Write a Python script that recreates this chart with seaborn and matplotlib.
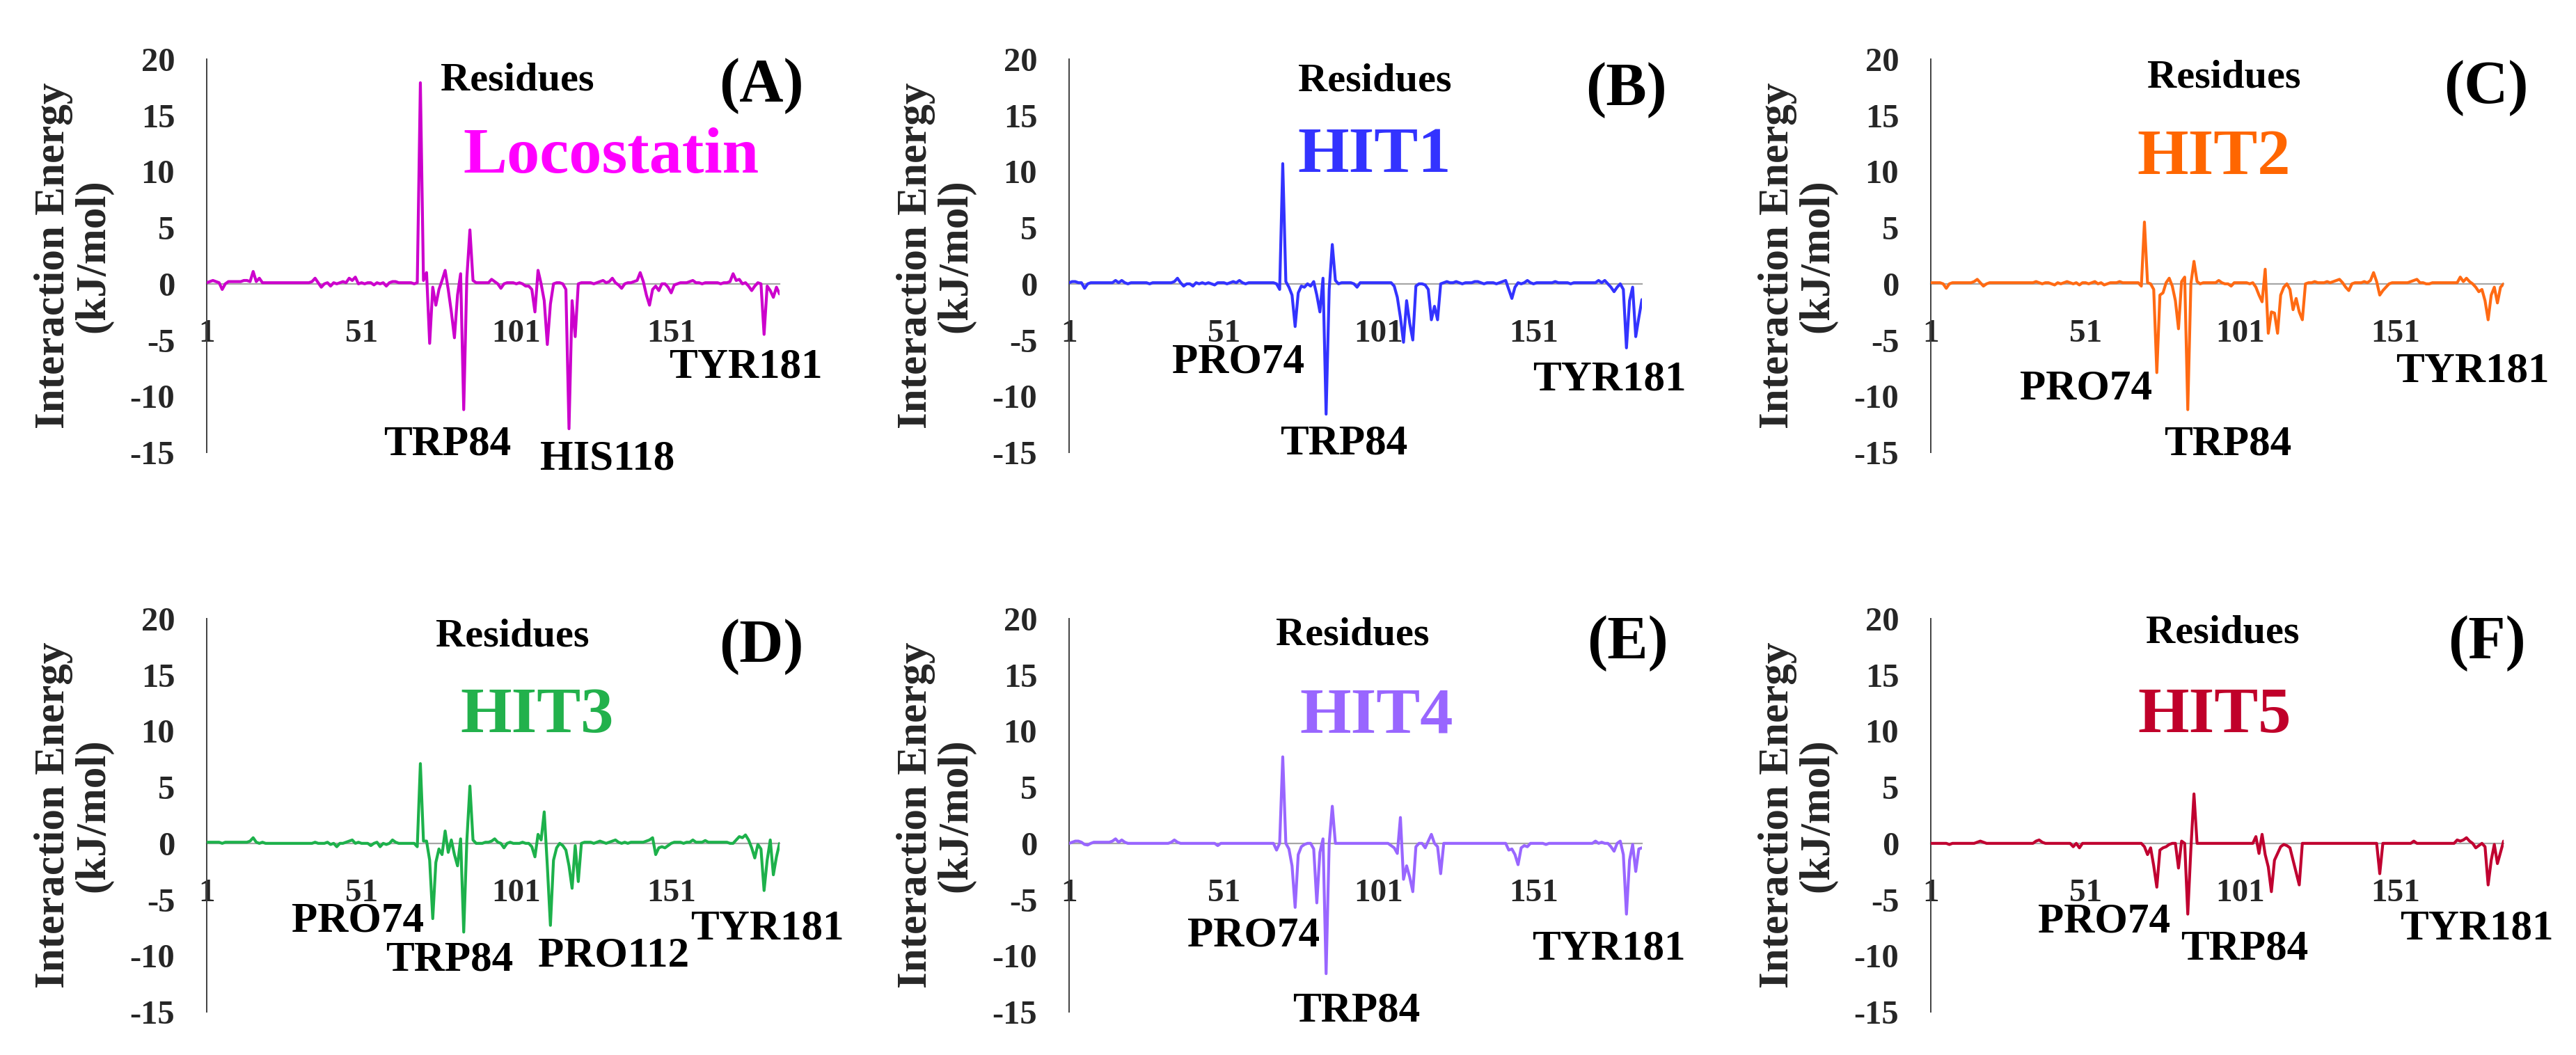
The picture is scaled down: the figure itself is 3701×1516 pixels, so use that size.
import matplotlib
matplotlib.use("Agg")
import matplotlib.pyplot as plt
import seaborn as sns
import pandas as pd

# ---------------- data ----------------
residues = list(range(1, 187))

locostatin = [
    0.1, 0.2, 0.3, 0.2, 0.1, -0.5, 0.0, 0.2, 0.2, 0.2,
    0.2, 0.2, 0.3, 0.3, 0.2, 1.1, 0.2, 0.5, 0.1, 0.1,
    0.1, 0.1, 0.1, 0.1, 0.1, 0.1, 0.1, 0.1, 0.1, 0.1,
    0.1, 0.1, 0.1, 0.1, 0.2, 0.5, 0.1, -0.3, 0.0, 0.1,
    -0.2, 0.1, 0.0, 0.1, 0.2, 0.1, 0.5, 0.3, 0.6, 0.0,
    0.1, 0.0, 0.1, 0.1, -0.1, 0.1, 0.0, 0.1, -0.2, 0.1,
    0.2, 0.2, 0.1, 0.1, 0.1, 0.1, 0.1, 0.0, 0.1, 17.9,
    0.3, 1.0, -5.3, -0.3, -1.9, -0.5, 0.3, 1.2, -0.5, -2.5,
    -4.8, -1.0, 0.9, -11.2, 0.5, 4.8, 0.3, 0.1, 0.1, 0.1,
    0.1, 0.1, 0.4, 0.2, 0.0, -0.4, 0.0, 0.1, 0.1, 0.1,
    0.0, 0.1, 0.0, -0.2, -0.2, -0.5, -2.5, 1.2, 0.0, -1.5,
    -5.4, -1.8, 0.0, 0.1, 0.1, 0.0, -0.5, -12.9, -1.5, -4.7,
    0.0, 0.1, 0.1, 0.1, 0.1, 0.0, 0.1, 0.2, 0.3, 0.1,
    0.2, 0.5, 0.1, -0.1, -0.4, 0.0, 0.1, 0.1, 0.2, 0.3,
    1.0, 0.2, -1.0, -1.9, -0.5, -0.2, -0.6, 0.0, 0.0, -0.3,
    -0.8, -0.1, 0.0, 0.1, 0.1, 0.1, 0.2, 0.3, 0.1, 0.1,
    0.0, 0.1, 0.1, 0.1, 0.1, 0.1, 0.0, 0.1, 0.1, 0.2,
    0.9, 0.3, 0.4, 0.0, 0.1, -0.2, -0.6, -0.2, 0.1, 0.0,
    -4.5, -0.2, -0.6, -1.2, -0.3, -0.9,
]

hit1 = [
    0.1, 0.2, 0.2, 0.1, 0.1, -0.4, 0.0, 0.1, 0.1, 0.1,
    0.1, 0.1, 0.1, 0.1, 0.1, 0.3, 0.1, 0.3, 0.1, 0.0,
    0.1, 0.1, 0.1, 0.1, 0.1, 0.1, 0.0, 0.1, 0.1, 0.1,
    0.1, 0.1, 0.1, 0.1, 0.2, 0.5, 0.1, -0.2, 0.0, 0.0,
    -0.2, 0.1, 0.0, 0.1, 0.0, 0.1, 0.0, -0.1, 0.1, 0.1,
    0.1, 0.0, 0.1, 0.2, 0.1, 0.3, 0.1, 0.0, 0.1, 0.1,
    0.1, 0.1, 0.1, 0.1, 0.1, 0.1, 0.1, 0.0, -0.5, 10.7,
    0.2, -0.3, -1.0, -3.8, -0.8, -0.2, -0.3, 0.0, -0.2, 0.2,
    -1.0, -2.5, 0.5, -11.6, -0.5, 3.5, 0.3, 0.0, 0.1, 0.1,
    0.1, 0.1, 0.0, -0.3, 0.1, 0.1, 0.1, 0.1, 0.1, 0.1,
    0.1, 0.1, 0.1, 0.1, 0.1, -0.2, -1.2, -3.0, -5.2, -1.5,
    -3.5, -5.0, -0.2, 0.0, 0.0, -0.1, -0.5, -3.2, -2.0, -3.2,
    0.0, 0.1, 0.2, 0.1, 0.1, 0.2, 0.1, 0.0, 0.1, 0.1,
    0.1, 0.2, 0.2, 0.1, 0.0, 0.1, 0.1, 0.1, 0.0, 0.1,
    0.2, 0.3, -0.5, -1.3, -0.3, 0.1, 0.0, 0.1, 0.3, 0.1,
    0.0, 0.1, 0.1, 0.1, 0.1, 0.1, 0.1, 0.2, 0.1, 0.1,
    0.1, 0.1, 0.0, 0.1, 0.1, 0.1, 0.1, 0.1, 0.1, 0.1,
    0.1, 0.3, 0.1, 0.3, 0.0, -0.3, -0.7, -0.3, 0.0, -0.5,
    -5.7, -1.5, -0.3, -4.7, -3.0, -1.4,
]

hit2 = [
    0.1, 0.1, 0.1, 0.1, 0.0, -0.4, 0.0, 0.1, 0.1, 0.1,
    0.1, 0.1, 0.1, 0.1, 0.2, 0.4, 0.1, -0.2, 0.0, 0.1,
    0.1, 0.1, 0.1, 0.1, 0.1, 0.1, 0.1, 0.1, 0.1, 0.1,
    0.1, 0.1, 0.1, 0.1, 0.2, 0.1, 0.0, 0.1, 0.1, 0.0,
    -0.1, 0.1, 0.0, 0.1, 0.2, 0.1, 0.0, 0.1, -0.1, 0.1,
    0.1, 0.0, 0.1, 0.2, 0.0, 0.1, -0.1, 0.0, 0.1, 0.1,
    0.1, 0.2, 0.1, 0.1, 0.1, 0.1, 0.1, 0.1, -0.2, 5.5,
    0.1, 0.0, -0.5, -7.9, -1.0, -0.8, 0.1, 0.5, -0.2, -1.5,
    -4.0, 0.2, 0.6, -11.2, 0.0, 2.0, 0.2, 0.0, 0.1, 0.1,
    0.1, 0.1, 0.1, 0.3, 0.1, 0.0, 0.0, -0.2, 0.1, 0.1,
    0.1, 0.1, 0.1, 0.0, 0.1, -0.3, -1.0, -1.6, 1.3, -4.4,
    -2.5, -2.6, -4.4, -1.0, -0.3, 0.0, -0.5, -2.3, -1.3, -2.5,
    -3.2, 0.0, 0.1, 0.1, 0.2, 0.1, 0.1, 0.1, 0.2, 0.1,
    0.2, 0.3, 0.4, 0.1, -0.3, -0.6, 0.0, 0.1, 0.1, 0.1,
    0.2, 0.1, 0.3, 1.0, 0.2, -1.0, -0.6, -0.3, 0.0, 0.1,
    0.1, 0.1, 0.1, 0.1, 0.1, 0.2, 0.3, 0.4, 0.1, 0.1,
    0.0, 0.0, 0.1, 0.1, 0.1, 0.1, 0.1, 0.1, 0.1, 0.1,
    0.1, 0.6, 0.2, 0.5, 0.2, 0.0, -0.3, -0.7, -0.5, -1.5,
    -3.2, -1.0, -0.3, -1.7, -0.3, 0.0,
]

hit3 = [
    0.1, 0.1, 0.1, 0.1, 0.1, 0.0, 0.1, 0.1, 0.1, 0.1,
    0.1, 0.1, 0.1, 0.1, 0.2, 0.5, 0.1, 0.0, 0.1, 0.0,
    0.0, 0.0, 0.0, 0.0, 0.0, 0.0, 0.0, 0.0, 0.0, 0.0,
    0.0, 0.0, 0.0, 0.0, 0.0, 0.1, 0.0, 0.0, 0.0, 0.1,
    -0.1, 0.0, -0.3, 0.0, 0.0, 0.1, 0.2, 0.3, 0.0, 0.1,
    0.0, 0.0, 0.0, -0.2, 0.0, 0.1, -0.3, 0.0, -0.1, 0.0,
    0.3, 0.1, 0.0, 0.0, 0.0, 0.0, 0.0, 0.0, -0.3, 7.1,
    0.2, 0.2, -1.5, -6.7, -1.7, -0.5, -1.0, 1.1, -0.8, 0.3,
    -1.0, -2.0, 0.4, -7.9, 0.2, 5.1, 0.3, 0.0, 0.0, 0.0,
    0.1, 0.1, 0.2, 0.4, 0.1, 0.0, -0.4, 0.0, 0.1, 0.0,
    0.0, 0.0, 0.1, 0.0, 0.0, -0.3, -1.2, 0.8, 0.3, 2.8,
    -2.0, -7.3, -1.5, -0.4, 0.0, -0.2, -0.6, -2.0, -4.0, -0.2,
    -3.4, 0.0, 0.1, 0.1, 0.1, 0.0, 0.1, 0.2, 0.1, 0.0,
    0.1, 0.2, 0.3, 0.1, 0.0, 0.1, 0.0, 0.1, 0.1, 0.1,
    0.1, 0.1, 0.2, 0.3, 0.5, -1.0, -0.4, -0.3, -0.4, -0.2,
    0.0, 0.1, 0.1, 0.1, 0.0, 0.1, 0.1, 0.3, 0.1, 0.1,
    0.1, 0.25, 0.1, 0.1, 0.1, 0.1, 0.1, 0.1, 0.1, 0.0,
    0.0, 0.3, 0.6, 0.5, 0.75, 0.3, -0.4, -1.3, -0.1, -0.5,
    -4.2, -1.5, 0.3, -2.8, -1.2, 0.0,
]

hit4 = [
    0.0, 0.1, 0.2, 0.2, 0.1, -0.1, -0.15, 0.0, 0.1, 0.1,
    0.1, 0.1, 0.1, 0.1, 0.2, 0.4, 0.1, 0.3, 0.1, 0.0,
    0.0, 0.0, 0.0, 0.0, 0.0, 0.0, 0.0, 0.0, 0.0, 0.0,
    0.0, 0.0, 0.0, 0.1, 0.3, 0.1, 0.0, 0.0, 0.0, 0.0,
    0.0, 0.0, 0.0, 0.0, 0.0, 0.0, 0.0, 0.0, -0.2, 0.0,
    0.0, 0.0, 0.0, 0.0, 0.0, 0.0, 0.0, 0.0, 0.0, 0.0,
    0.0, 0.0, 0.0, 0.0, 0.0, 0.0, 0.0, -0.6, 0.0, 7.7,
    0.0, -0.5, -2.0, -5.7, -1.0, -0.3, -0.1, 0.0, 0.0, -0.5,
    -5.3, -0.8, 0.4, -11.6, 0.0, 3.3, 0.0, 0.0, 0.0, 0.0,
    0.0, 0.0, 0.0, 0.0, 0.0, 0.0, 0.0, 0.0, 0.0, 0.0,
    0.0, 0.0, 0.0, 0.0, -0.2, -0.4, -0.9, 2.3, -3.2, -2.0,
    -3.0, -4.3, -0.3, 0.0, 0.0, -0.4, 0.2, 0.8, 0.0, -0.3,
    -2.7, 0.0, 0.0, 0.0, 0.0, 0.0, 0.0, 0.0, 0.0, 0.0,
    0.0, 0.0, 0.0, 0.0, 0.0, 0.0, 0.0, 0.0, 0.0, 0.0,
    0.0, 0.0, -0.6, -0.5, -1.0, -1.9, -0.4, -0.2, -0.3, 0.0,
    0.0, 0.0, 0.0, 0.0, -0.1, 0.0, 0.0, 0.0, 0.0, 0.0,
    0.0, 0.0, 0.0, 0.0, 0.0, 0.0, 0.0, 0.0, 0.0, 0.0,
    0.2, 0.0, 0.1, 0.0, 0.0, -0.3, -0.7, 0.0, 0.2, -1.0,
    -6.3, -1.5, -0.1, -2.5, -0.5, -0.4,
]

hit5 = [
    0.0, 0.0, 0.0, 0.0, 0.0, 0.0, -0.1, 0.0, 0.0, 0.0,
    0.0, 0.0, 0.0, 0.0, 0.0, 0.1, 0.2, 0.1, 0.0, 0.0,
    0.0, 0.0, 0.0, 0.0, 0.0, 0.0, 0.0, 0.0, 0.0, 0.0,
    0.0, 0.0, 0.0, 0.0, 0.2, 0.3, 0.1, 0.0, 0.0, 0.0,
    0.0, 0.0, 0.0, 0.0, 0.0, 0.0, -0.3, 0.0, -0.4, 0.0,
    0.0, 0.0, 0.0, 0.0, 0.0, 0.0, 0.0, 0.0, 0.0, 0.0,
    0.0, 0.0, 0.0, 0.0, 0.0, 0.0, 0.0, 0.0, 0.0, -0.3,
    -1.0, -0.4, -2.0, -3.9, -0.6, -0.4, -0.3, -0.1, 0.0, 0.0,
    -2.2, 0.2, 0.0, -6.3, -0.5, 4.4, 0.0, 0.0, 0.0, 0.0,
    0.0, 0.0, 0.0, 0.0, 0.0, 0.0, 0.0, 0.0, 0.0, 0.0,
    0.0, 0.0, 0.0, 0.0, 0.0, 0.6, -0.9, 0.8, -1.0, -2.1,
    -4.3, -1.5, -0.9, -0.3, -0.1, -0.2, -0.4, -1.5, -2.6, -3.7,
    0.0, 0.0, 0.0, 0.0, 0.0, 0.0, 0.0, 0.0, 0.0, 0.0,
    0.0, 0.0, 0.0, 0.0, 0.0, 0.0, 0.0, 0.0, 0.0, 0.0,
    0.0, 0.0, 0.0, 0.0, 0.0, -2.7, 0.0, 0.0, 0.0, 0.0,
    0.0, 0.0, 0.0, 0.0, 0.0, 0.0, 0.2, 0.0, 0.0, 0.0,
    0.0, 0.0, 0.0, 0.0, 0.0, 0.0, 0.0, 0.0, 0.0, 0.0,
    0.3, 0.2, 0.3, 0.5, 0.2, 0.0, -0.4, -0.2, 0.0, -0.3,
    -3.7, -1.5, -0.1, -1.8, -0.8, 0.2,
]

compounds = ["Locostatin", "HIT1", "HIT2", "HIT3", "HIT4", "HIT5"]
panel_tags = ["(A)", "(B)", "(C)", "(D)", "(E)", "(F)"]
series = [locostatin, hit1, hit2, hit3, hit4, hit5]
line_colors = ["#CC00CC", "#3333FF", "#FF6A13", "#1DB14B", "#9966FF", "#C00030"]
name_colors = ["#FF00FF", "#3333FF", "#FF6600", "#22B14C", "#9966FF", "#C0002A"]

x_ticks = [1, 51, 101, 151]
x_tick_labels = ["1", "51", "101", "151"]
y_ticks = [-15, -10, -5, 0, 5, 10, 15, 20]
y_tick_labels = ["-15", "-10", "-5", "0", "5", "10", "15", "20"]
x_title = "Residues"
y_title = "Interaction Energy\n(kJ/mol)"

residue_labels = [
    [("TRP84", 78.8, -13.9), ("HIS118", 130.3, -15.2), ("TYR181", 175.0, -7.0)],
    [("PRO74", 55.6, -6.6), ("TRP84", 89.8, -13.8), ("TYR181", 175.6, -8.1)],
    [("PRO74", 51.1, -8.9), ("TRP84", 97.0, -13.9), ("TYR181", 175.9, -7.4)],
    [("PRO74", 49.8, -6.5), ("TRP84", 79.3, -10.0), ("PRO112", 132.4, -9.6),
     ("TYR181", 182.0, -7.2)],
    [("PRO74", 60.6, -7.8), ("TRP84", 93.7, -14.5), ("TYR181", 175.2, -9.0)],
    [("PRO74", 57.0, -6.6), ("TRP84", 102.4, -9.0), ("TYR181", 177.2, -7.2)],
]
title_pos = [(101.3, 18.5), (99.7, 18.4), (95.7, 18.7), (99.7, 18.8), (92.5, 18.9), (95.3, 19.1)]
tag_pos = [(180.2, 18.2), (180.9, 17.8), (180.4, 18.0), (180.2, 18.1), (181.3, 18.4), (180.7, 18.4)]
name_pos = [(131.6, 11.9), (99.7, 12.0), (92.3, 11.8), (107.7, 11.9), (100.2, 11.9), (92.6, 11.9)]

# ---------------- style ----------------
sns.set_theme(style="white")
plt.rcParams["font.family"] = ["Liberation Serif", "DejaVu Serif"]
plt.rcParams["font.weight"] = "bold"
plt.rcParams["axes.unicode_minus"] = False

W, H = 3701, 1516
fig = plt.figure(figsize=(W / 100, H / 100), dpi=100)

lefts = [297, 1536, 2774]
tops = [85, 889]
ax_w = 823
ax_h = 565

for i, (vals, name) in enumerate(zip(series, compounds)):
    row, col = divmod(i, 3)
    left = lefts[col] / W
    bottom = 1 - (tops[row] + ax_h) / H
    ax = fig.add_axes([left, bottom, ax_w / W, ax_h / H])
    df = pd.DataFrame({"Residue": residues, "Energy": vals})
    sns.lineplot(data=df, x="Residue", y="Energy", ax=ax, color=line_colors[i],
                 linewidth=3.0, zorder=3)
    ax.set_xlim(1, 186)
    ax.set_ylim(-15, 20)
    ax.spines["top"].set_visible(False)
    ax.spines["right"].set_visible(False)
    ax.spines["bottom"].set_position(("data", 0))
    ax.spines["bottom"].set_color("#A6A6A6")
    ax.spines["bottom"].set_linewidth(1.6)
    ax.spines["bottom"].set_zorder(2)
    ax.spines["left"].set_color("#404040")
    ax.spines["left"].set_linewidth(1.4)
    ax.set_xticks(x_ticks)
    ax.set_xticklabels(x_tick_labels)
    ax.set_yticks(y_ticks)
    ax.set_yticklabels(y_tick_labels)
    ax.tick_params(axis="x", length=0, pad=37, labelsize=34)
    ax.tick_params(axis="y", length=0, pad=33, labelsize=35)
    for lab in ax.get_xticklabels() + ax.get_yticklabels():
        lab.set_fontweight("bold")
    ax.set_xlabel("")
    ax.set_ylabel(y_title, fontsize=44, fontweight="bold", linespacing=1.05)
    ax.yaxis.set_label_coords(-0.163, 0.5)
    ax.patch.set_alpha(0)

    ax.text(*title_pos[i], x_title, fontsize=42, fontweight="bold",
            ha="center", va="center_baseline", color="black")
    ax.text(*tag_pos[i], panel_tags[i], fontsize=63, fontweight="bold",
            ha="center", va="center_baseline", color="black")
    ax.text(*name_pos[i], name, fontsize=68, fontweight="bold",
            ha="center", va="center_baseline", color=name_colors[i])
    for (txt, lx, ly) in residue_labels[i]:
        ax.text(lx, ly, txt, fontsize=44, fontweight="bold", ha="center",
                va="center_baseline", color="black", zorder=4)

fig.savefig("out.png", dpi=100, facecolor="white")
